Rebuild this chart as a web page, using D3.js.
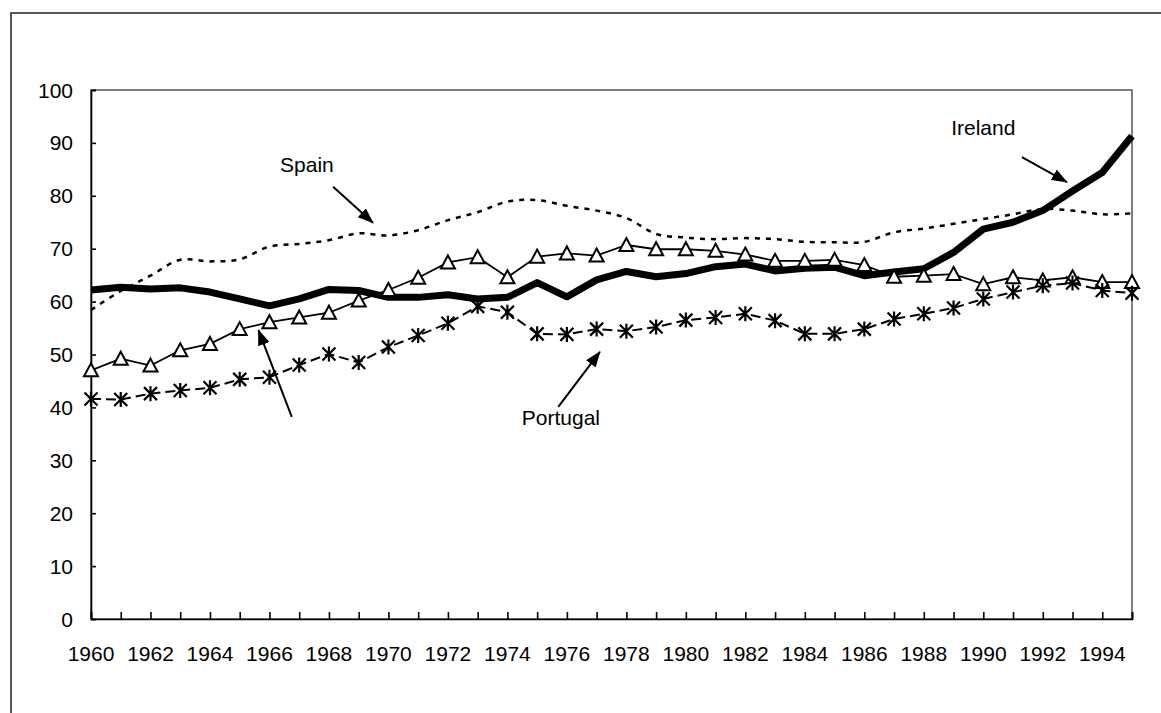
<!DOCTYPE html>
<html>
<head>
<meta charset="utf-8">
<script src="https://cdn.jsdelivr.net/npm/d3@7"></script>
<style>
  body { margin: 0; background: #fff; }
  text { font-family: "Liberation Sans", Arial, sans-serif; font-size: 21px; fill: #000; }
</style>
</head>
<body>
<svg id="chart" width="1161" height="713"></svg>
<script>
// years on the x axis, one value per year 1960..1995
const years = d3.range(1960, 1996);
const yearLabels = d3.range(1960, 1996, 2);
const yTicks = d3.range(0, 101, 10);

const ireland = [62.2, 62.7, 62.4, 62.6, 61.8, 60.5, 59.2, 60.5, 62.3, 62.1,
                 60.8, 60.8, 61.3, 60.5, 60.8, 63.6, 60.9, 64.1, 65.7, 64.7,
                 65.3, 66.6, 67.1, 65.8, 66.3, 66.5, 64.9, 65.6, 66.2, 69.3,
                 73.7, 75.0, 77.2, 80.9, 84.4, 91.3];
const spain = [58.4, 62.0, 64.9, 67.9, 67.6, 68.0, 70.4, 70.9, 71.6, 72.9,
               72.5, 73.5, 75.4, 76.9, 78.9, 79.2, 78.1, 77.2, 75.8, 72.8,
               72.1, 71.8, 72.0, 71.8, 71.3, 71.2, 71.3, 73.1, 73.8, 74.7,
               75.6, 76.5, 77.5, 77.2, 76.5, 76.7];
// the triangle series has no label in the chart
const unlabelled = [47.0, 49.2, 47.9, 50.8, 52.0, 54.8, 56.1, 57.0, 57.9, 60.2,
                    62.2, 64.5, 67.4, 68.4, 64.6, 68.5, 69.1, 68.7, 70.7, 69.9,
                    69.9, 69.6, 68.9, 67.7, 67.7, 67.9, 66.9, 64.7, 64.9, 65.2,
                    63.3, 64.6, 64.0, 64.6, 63.7, 63.7];
const portugal = [41.6, 41.5, 42.6, 43.2, 43.7, 45.3, 45.7, 48.0, 50.1, 48.5,
                  51.4, 53.6, 55.9, 59.1, 58.0, 53.9, 53.8, 54.8, 54.4, 55.2,
                  56.5, 57.0, 57.7, 56.4, 53.9, 53.9, 54.8, 56.7, 57.7, 58.8,
                  60.5, 61.8, 63.0, 63.5, 62.1, 61.6];

// labels and arrows, in data units (year, value)
const labels = [
  { text: "Spain", x: 1967.26, y: 84.5 },
  { text: "Portugal", x: 1975.8, y: 36.7 },
  { text: "Ireland", x: 1990.0, y: 91.5 }
];
const arrows = [
  { x1: 1968.14, y1: 81.7, x2: 1969.48, y2: 74.9 },
  { x1: 1966.75, y1: 38.2, x2: 1965.63, y2: 54.6 },
  { x1: 1975.71, y1: 40.1, x2: 1977.11, y2: 50.5 },
  { x1: 1991.3, y1: 87.3, x2: 1992.81, y2: 82.6 }
];

const svg = d3.select("#chart");
const plotLeft = 91, plotRight = 1132, plotTop = 90, plotBottom = 619;

const x = d3.scaleLinear().domain([1960, 1995]).range([plotLeft, plotRight]);
const y = d3.scaleLinear().domain([0, 100]).range([plotBottom, plotTop]);

// outer frame of the chart object
svg.append("rect")
  .attr("x", 11).attr("y", 13)
  .attr("width", 1300).attr("height", 900)
  .attr("fill", "none").attr("stroke", "#222").attr("stroke-width", 1.5);

// plot area border
svg.append("rect")
  .attr("x", plotLeft).attr("y", plotTop)
  .attr("width", plotRight - plotLeft).attr("height", plotBottom - plotTop)
  .attr("fill", "none").attr("stroke", "#000").attr("stroke-width", 1);

// axes
svg.append("g")
  .attr("transform", "translate(" + plotLeft + ",0)")
  .call(d3.axisRight(y).tickValues(yTicks).tickSize(5).tickFormat(""));
svg.append("g")
  .attr("transform", "translate(0," + plotBottom + ")")
  .call(d3.axisTop(x).tickValues(years).tickSize(7).tickFormat(""));
svg.selectAll(".domain").attr("stroke", "#000").attr("stroke-width", 1.6);
svg.selectAll(".tick line").attr("stroke", "#000").attr("stroke-width", 1.6);

svg.append("g").selectAll("text")
  .data(yTicks)
  .enter()
  .append("text")
  .attr("x", 73)
  .attr("y", (d) => y(d))
  .attr("dy", "0.36em")
  .attr("text-anchor", "end")
  .text((d) => d);

svg.append("g").selectAll("text")
  .data(yearLabels)
  .enter()
  .append("text")
  .attr("x", (d) => x(d))
  .attr("y", 661)
  .attr("text-anchor", "middle")
  .text((d) => d);

const line = (vals, curve) => d3.line()
  .x((d, i) => x(years[i]))
  .y((d) => y(d))
  .curve(curve || d3.curveLinear)(vals);

// Spain, dotted smoothed line
svg.append("path")
  .attr("d", line(spain, d3.curveCatmullRom.alpha(0.5)))
  .attr("fill", "none").attr("stroke", "#000")
  .attr("stroke-width", 2.5).attr("stroke-dasharray", "5,6");

// unlabelled triangle series
svg.append("path")
  .attr("d", line(unlabelled))
  .attr("fill", "none").attr("stroke", "#000").attr("stroke-width", 1.8);

// Portugal, dashed line with star markers
svg.append("path")
  .attr("d", line(portugal))
  .attr("fill", "none").attr("stroke", "#000")
  .attr("stroke-width", 2).attr("stroke-dasharray", "10,5");

// Ireland, thick line
svg.append("path")
  .attr("d", line(ireland))
  .attr("fill", "none").attr("stroke", "#000")
  .attr("stroke-width", 7).attr("stroke-linejoin", "round");

svg.append("g").selectAll("path")
  .data(unlabelled)
  .enter()
  .append("path")
  .attr("transform", (d, i) => "translate(" + x(years[i]) + "," + y(d) + ")")
  .attr("d", "M0,-7L7,6H-7Z")
  .attr("fill", "#fff").attr("stroke", "#000").attr("stroke-width", 2);

svg.append("g").selectAll("path")
  .data(portugal)
  .enter()
  .append("path")
  .attr("transform", (d, i) => "translate(" + x(years[i]) + "," + y(d) + ")")
  .attr("d", "M0,-7.5V7.5M-6.5,-6.5L6.5,6.5M-6.5,6.5L6.5,-6.5")
  .attr("fill", "none").attr("stroke", "#000").attr("stroke-width", 2.2);

// annotations
svg.append("defs").append("marker")
  .attr("id", "head")
  .attr("markerUnits", "userSpaceOnUse")
  .attr("viewBox", "0 0 16 12")
  .attr("refX", 15).attr("refY", 6)
  .attr("markerWidth", 16).attr("markerHeight", 12)
  .attr("orient", "auto")
  .append("path")
  .attr("d", "M0,0L16,6L0,12Z")
  .attr("fill", "#000");

svg.append("g").selectAll("line")
  .data(arrows)
  .enter()
  .append("line")
  .attr("x1", (d) => x(d.x1)).attr("y1", (d) => y(d.y1))
  .attr("x2", (d) => x(d.x2)).attr("y2", (d) => y(d.y2))
  .attr("stroke", "#000").attr("stroke-width", 2)
  .attr("marker-end", "url(#head)");

svg.append("g").selectAll("text")
  .data(labels)
  .enter()
  .append("text")
  .attr("x", (d) => x(d.x))
  .attr("y", (d) => y(d.y))
  .attr("text-anchor", "middle")
  .text((d) => d.text);
</script>
</body>
</html>
